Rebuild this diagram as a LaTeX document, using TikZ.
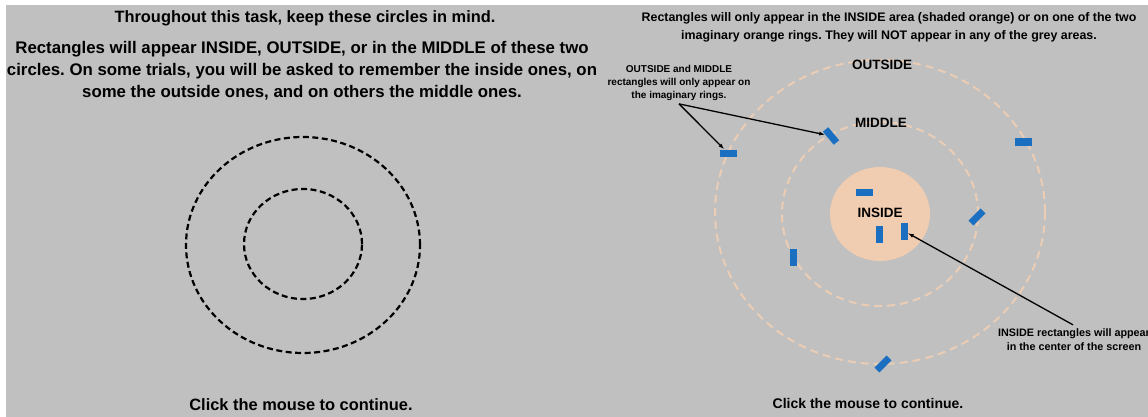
\documentclass[tikz,border=0pt]{standalone}
\usepackage{fontspec}
\setmainfont{Liberation Sans}
\usetikzlibrary{arrows.meta}
\definecolor{screen-grey}{HTML}{C0C0C0}
\definecolor{rect-blue}{HTML}{1A6FC0}
\definecolor{inside-peach}{HTML}{F0CCB0}
\definecolor{ring-peach}{HTML}{EBCDB5}
\frenchspacing

\begin{document}
\begin{tikzpicture}[x=1pt, y=-1pt,
        every node/.style={inner sep=0pt, text=black},
        bigtxt/.style={font=\fontsize{16.8}{22}\selectfont\bfseries, align=center},
        headtxt/.style={font=\fontsize{12.4}{18}\selectfont\bfseries, align=center},
        zonetxt/.style={font=\fontsize{13.5}{16}\selectfont\bfseries},
        notetxt/.style={font=\fontsize{10}{13}\selectfont\bfseries, align=center},
        bluerect/.style={fill=rect-blue, minimum width=17pt, minimum height=7pt},
        ring/.style={ring-peach, line width=2pt, dash pattern=on 8pt off 5pt},
        keepring/.style={black, line width=2.2pt, dash pattern=on 6pt off 3.5pt},
        pointer/.style={-{Latex[length=6pt, width=4pt]}, line width=1.3pt}]
      \useasboundingbox (0,0) rectangle (1148,417);
      \fill[white] (0,0) rectangle (1148,417);
      \fill[screen-grey] (6,5) rectangle (1148,417);
      % left screen
      \node[bigtxt, font=\fontsize{16.4}{22}\selectfont\bfseries] (title) at (305,18)
            {Throughout this task, keep these circles in mind.};
      \node[bigtxt] (instr) at (302,71)
            {Rectangles will appear INSIDE, OUTSIDE, or in the MIDDLE of these two\\
             circles. On some trials, you will be asked to remember the inside ones, on\\
             some the outside ones, and on others the middle ones.};
      \draw[keepring] (303,245) ellipse [x radius=117pt, y radius=108pt];
      \draw[keepring] (303,244) ellipse [x radius=59pt, y radius=55pt];
      \node[font=\fontsize{16.4}{18}\selectfont\bfseries] (clickL) at (301,405) {Click the mouse to continue.};
      % right screen
      \node[headtxt] (rule) at (889,27)
            {Rectangles will only appear in the INSIDE area (shaded orange) or on one of the two\\
             imaginary orange rings. They will NOT appear in any of the grey areas.};
      \fill[inside-peach] (880,214) ellipse [x radius=50pt, y radius=47pt];
      \draw[ring] (880,214) ellipse [x radius=98pt, y radius=92pt];
      \draw[ring] (880,212) ellipse [x radius=165pt, y radius=152pt];
      \node[zonetxt] (outside) at (882,65) {OUTSIDE};
      \node[zonetxt] (middle) at (881,123) {MIDDLE};
      \node[zonetxt] (inside) at (880,213) {INSIDE};
      \node[bluerect] (r1) at (728,153) {};
      \node[bluerect, rotate=-50] (r2) at (831,136) {};
      \node[bluerect] (r3) at (1023,142) {};
      \node[bluerect] (r4) at (864,192) {};
      \node[bluerect, rotate=90] (r5) at (879,234) {};
      \node[bluerect, rotate=90] (r6) at (904,231) {};
      \node[bluerect, rotate=45] (r7) at (977,217) {};
      \node[bluerect, rotate=90] (r8) at (793,257) {};
      \node[bluerect, rotate=45] (r9) at (883,364) {};
      \node[notetxt] (ringnote) at (679,83)
            {OUTSIDE and MIDDLE\\rectangles will only appear on\\the imaginary rings.};
      \node[notetxt, font=\fontsize{10.8}{14}\selectfont\bfseries] (insidenote) at (1074,340)
            {INSIDE rectangles will appear\\in the center of the screen};
      \draw[pointer] ([yshift=-3pt]ringnote.south) -- (r1);
      \draw[pointer] ([yshift=-3pt]ringnote.south) -- (r2);
      \draw[pointer] ([xshift=-1pt, yshift=4pt]insidenote.north) -- (r6);
      \node[font=\fontsize{14}{16}\selectfont\bfseries] (clickR) at (868,403) {Click the mouse to continue.};
\end{tikzpicture}
\end{document}
